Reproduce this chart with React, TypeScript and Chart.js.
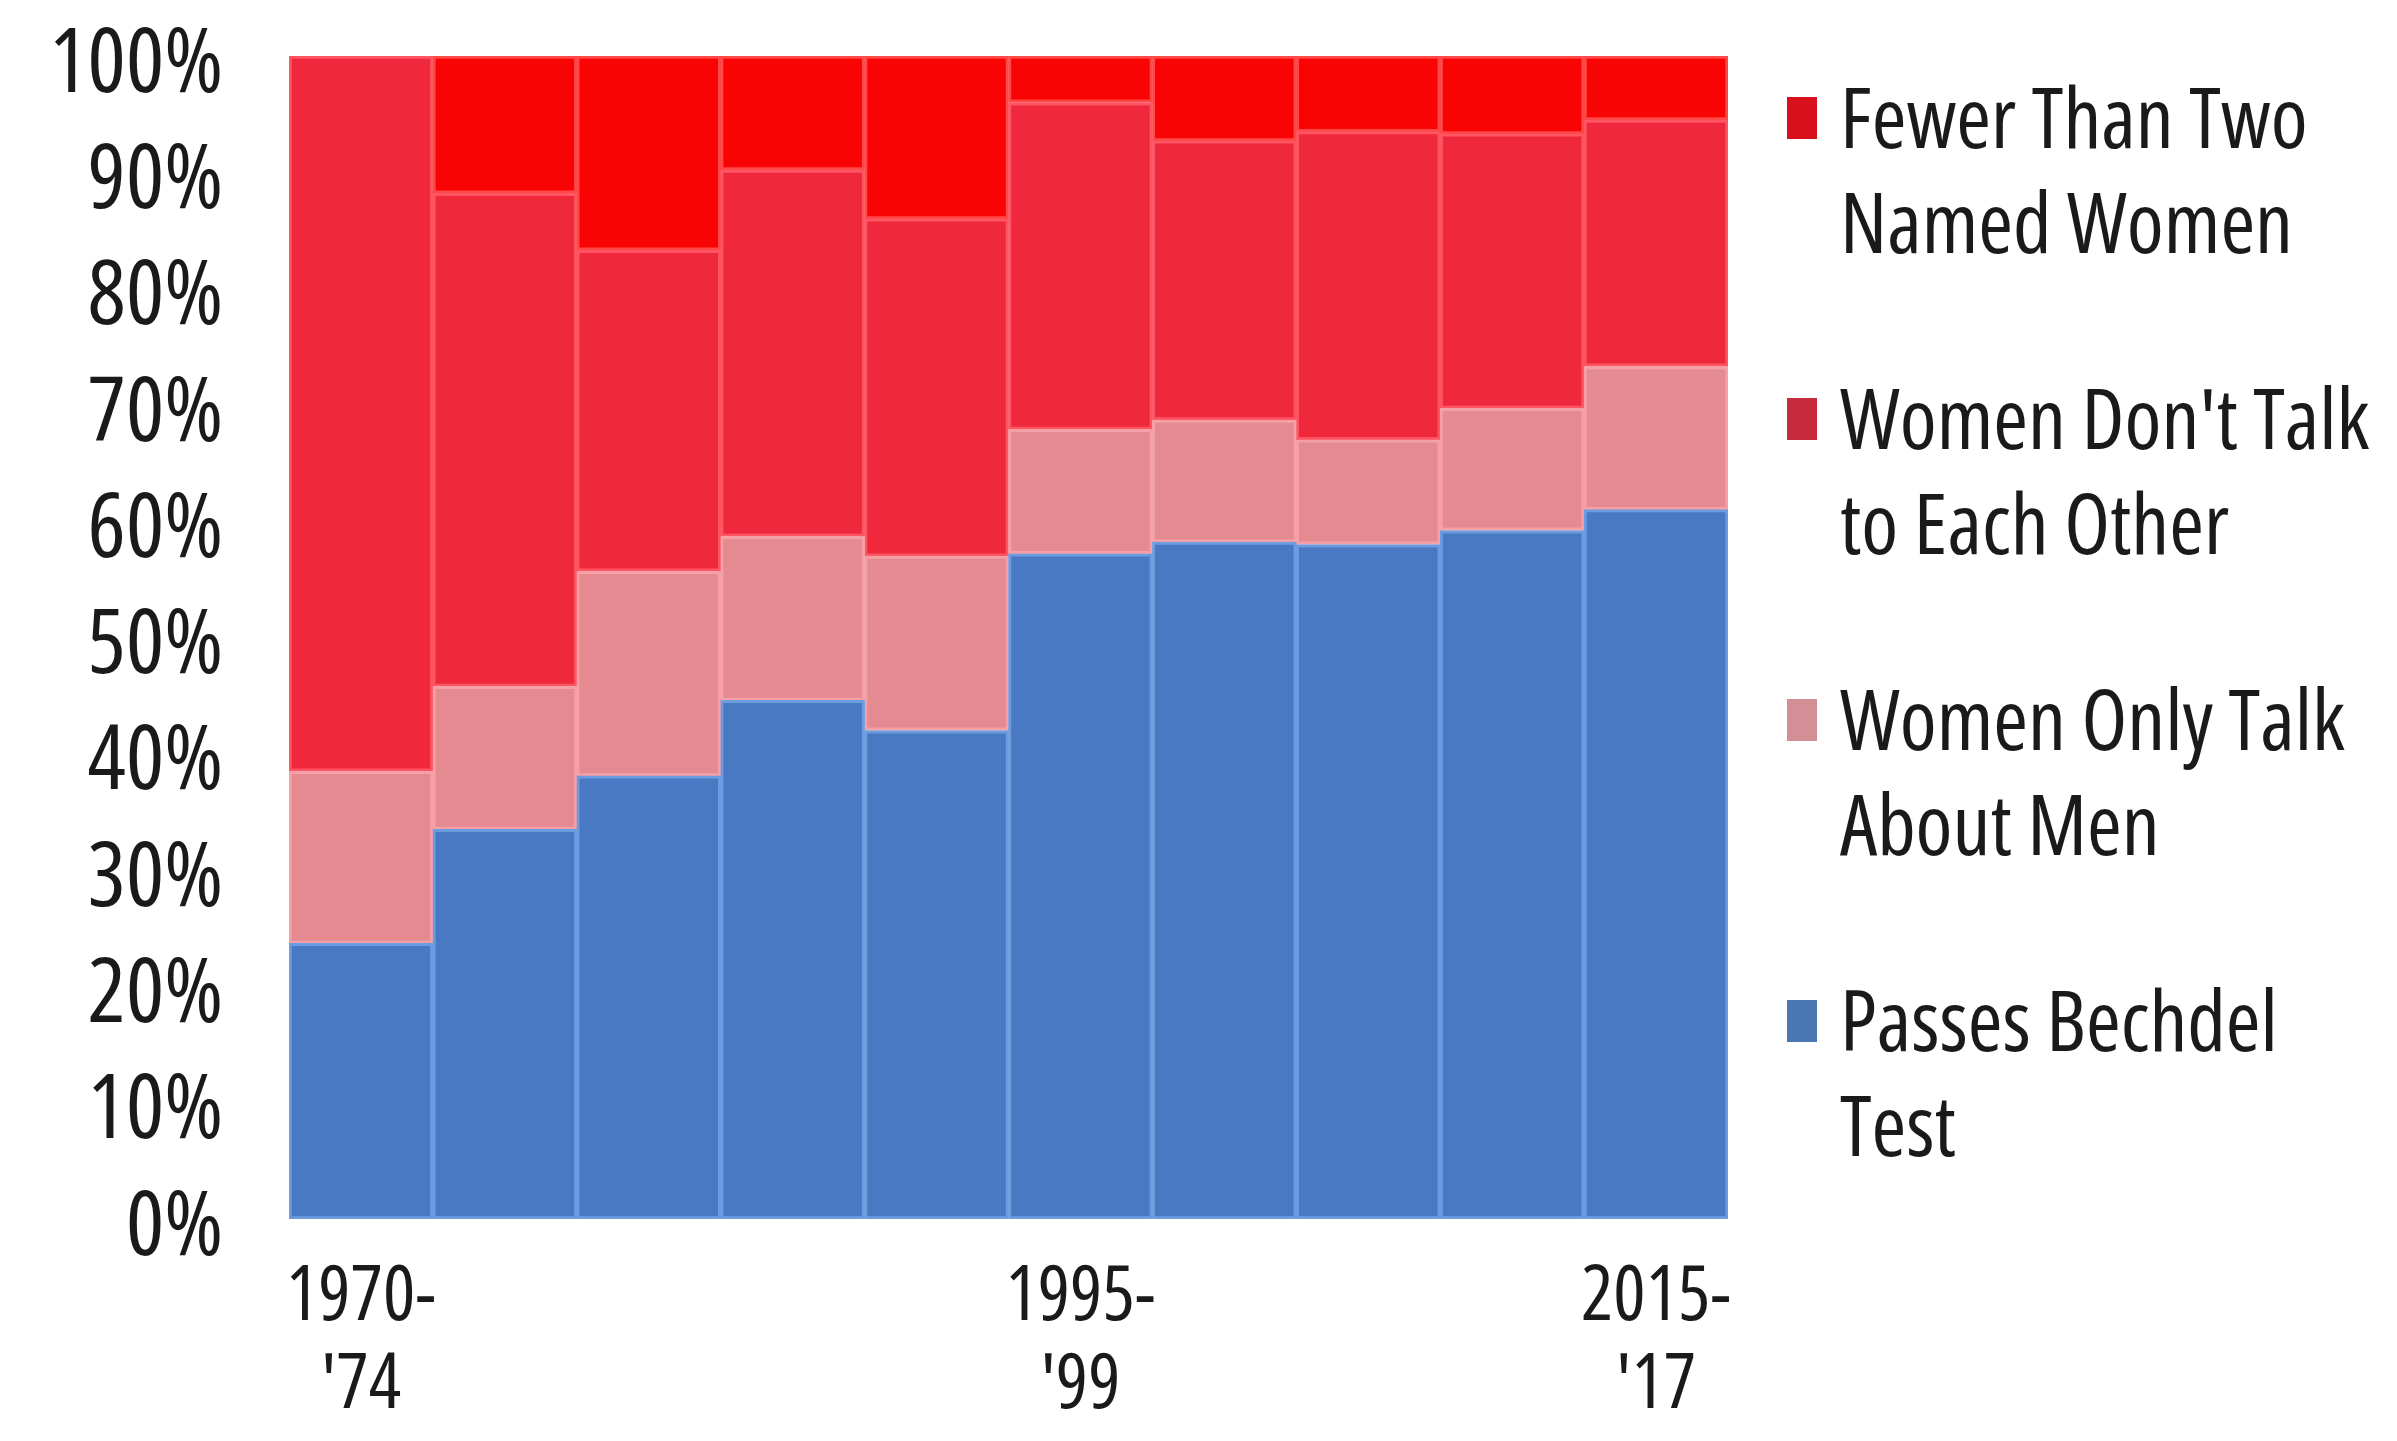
import React, { useEffect, useRef } from "react";
import { Chart, registerables } from "chart.js";

Chart.register(...registerables);

const CATEGORIES = ["1970-'74", "1975-'79", "1980-'84", "1985-'89", "1990-'94", "1995-'99", "2000-'04", "2005-'09", "2010-'14", "2015-'17"];
const X_TICK_LABELS: (string | string[])[] = [["1970-", "'74"], "", "", "", "", ["1995-", "'99"], "", "", "", ["2015-", "'17"]];

const PASSES = [23.7, 33.5, 38.1, 44.6, 42.0, 57.2, 58.2, 58.0, 59.2, 61.0];
const ONLY_ABOUT_MEN = [14.8, 12.3, 17.6, 14.1, 15.0, 10.7, 10.5, 9.0, 10.5, 12.3];
const DONT_TALK = [61.5, 42.4, 27.6, 31.5, 29.0, 28.1, 24.0, 26.5, 23.6, 21.2];
const FEWER_THAN_TWO = [0, 11.8, 16.7, 9.8, 14.0, 4.0, 7.3, 6.5, 6.7, 5.5];

const LEGEND_LINES: string[][] = [
  ["Fewer Than Two", "Named Women"],
  ["Women Don't Talk", "to Each Other"],
  ["Women Only Talk", "About Men"],
  ["Passes Bechdel", "Test"],
];
const LEGEND_COLORS = ["#D8101C", "#C82A3E", "#D48E96", "#4A78B2"];

const FAMILY = '"Open Sans", "Roboto", sans-serif';

const legendPlugin = {
  id: "sideLegend",
  afterDraw(chart: any) {
    const { ctx, chartArea } = chart;
    ctx.save();
    const size = 84;
    ctx.font = `condensed ${size}px ${FAMILY}`;
    ctx.textAlign = "left";
    ctx.textBaseline = "alphabetic";
    LEGEND_LINES.forEach((lines, i) => {
      const cy = chartArea.top + 62 + i * 301;
      ctx.fillStyle = LEGEND_COLORS[i];
      ctx.fillRect(chartArea.right + 59, cy - 21, 30, 42);
      ctx.fillStyle = "#1a1a1a";
      lines.forEach((line, j) => {
        ctx.fillText(line, chartArea.right + 112, cy + j * 105 + 30);
      });
    });
    ctx.restore();
  },
};

const barCommon = { borderWidth: 3, borderSkipped: false, categoryPercentage: 1, barPercentage: 1 };

export default function App() {
  const ref = useRef<HTMLCanvasElement>(null);
  useEffect(() => {
    if (!ref.current) return;
    const chart = new Chart(ref.current, {
      type: "bar",
      data: {
        labels: CATEGORIES,
        datasets: [
          { label: "Passes Bechdel Test", data: PASSES, backgroundColor: "#4879C2", borderColor: "#6C9CE0", ...barCommon },
          { label: "Women Only Talk About Men", data: ONLY_ABOUT_MEN, backgroundColor: "#E48A90", borderColor: "#F5A0A6", ...barCommon },
          { label: "Women Don't Talk to Each Other", data: DONT_TALK, backgroundColor: "#EF283C", borderColor: "#FF5563", ...barCommon },
          { label: "Fewer Than Two Named Women", data: FEWER_THAN_TWO, backgroundColor: "#F80404", borderColor: "#FF4848", ...barCommon },
        ] as any,
      },
      options: {
        responsive: false,
        animation: false,
        layout: { padding: { top: 56, right: 669, left: 0, bottom: 0 } },
        plugins: { legend: { display: false }, tooltip: { enabled: false } },
        scales: {
          x: {
            stacked: true,
            grid: { display: false, drawTicks: false },
            border: { display: false },
            afterFit: (s: any) => {
              s.height = 222;
              s.paddingLeft = 0;
              s.paddingRight = 0;
            },
            ticks: {
              autoSkip: false,
              maxRotation: 0,
              minRotation: 0,
              padding: 35,
              color: "#1a1a1a",
              font: { family: FAMILY, weight: "condensed", size: 76, lineHeight: 1.16 },
              callback: (_v: any, i: number) => X_TICK_LABELS[i],
            },
          } as any,
          y: {
            stacked: true,
            min: 0,
            max: 100,
            grid: { display: false, drawTicks: false },
            border: { display: false },
            afterFit: (s: any) => {
              s.width = 289;
              s.paddingTop = 0;
              s.paddingBottom = 0;
            },
            ticks: {
              stepSize: 10,
              padding: 66,
              labelOffset: 10,
              color: "#1a1a1a",
              font: { family: FAMILY, weight: "condensed", size: 90 },
              callback: (v: any) => `${v}%`,
            },
          } as any,
        },
      },
      plugins: [legendPlugin],
    });
    return () => chart.destroy();
  }, []);
  return (
    <div style={{ position: "fixed", left: 0, top: 0, width: 2397, height: 1441, background: "#fff" }}>
      <canvas ref={ref} width={2397} height={1441} />
    </div>
  );
}
